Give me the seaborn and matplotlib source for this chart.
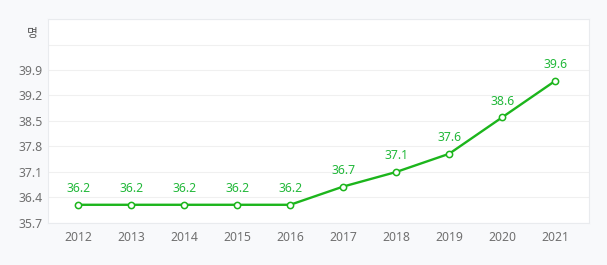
import matplotlib
matplotlib.use("Agg")
import matplotlib.pyplot as plt
import seaborn as sns
import pandas as pd

years = ["2012", "2013", "2014", "2015", "2016", "2017", "2018", "2019", "2020", "2021"]
values = [36.2, 36.2, 36.2, 36.2, 36.2, 36.7, 37.1, 37.6, 38.6, 39.6]
y_ticks = [35.7, 36.4, 37.1, 37.8, 38.5, 39.2, 39.9, 40.6, 41.3]
y_tick_labels = ["35.7", "36.4", "37.1", "37.8", "38.5", "39.2", "39.9", "", ""]
unit_label = "명"

sns.set_theme(style="white")
plt.rcParams["font.family"] = ["Noto Sans", "Noto Sans CJK KR", "DejaVu Sans"]

df = pd.DataFrame({"year": years, "value": values})

fig = plt.figure(figsize=(6.07, 2.65), dpi=100, facecolor="#f8f9fb")
ax = fig.add_axes([0.0791, 0.1585, 0.8913, 0.7698])
ax.set_facecolor("white")

line_color = "#1cb51c"
sns.lineplot(data=df, x="year", y="value", ax=ax, color=line_color, linewidth=1.7,
             marker="o", markersize=4.5, markerfacecolor="white",
             markeredgecolor=line_color, markeredgewidth=1.1, sort=False)

for i, v in enumerate(values):
    ax.annotate(f"{v:.1f}", (i, v), xytext=(0, 7), textcoords="offset points",
                ha="center", va="bottom", fontsize=8.8, color="#22b83a")

ax.set_ylim(35.7, 41.3)
ax.set_xlim(-0.57, 9.64)
ax.set_yticks(y_ticks)
ax.set_yticklabels(y_tick_labels)
ax.grid(axis="y", color="#f0f0f0", linewidth=0.8)
ax.grid(axis="x", visible=False)
ax.set_axisbelow(True)
ax.tick_params(axis="both", length=0, labelsize=8.8, labelcolor="#707070")
ax.tick_params(axis="x", pad=6)
ax.tick_params(axis="y", pad=4)
ax.set_xlabel("")
ax.set_ylabel("")
for s in ax.spines.values():
    s.set_color("#e9ebee")
    s.set_linewidth(0.8)

fig.text(32 / 607, 1 - 33 / 265, unit_label, ha="center", va="center",
         fontsize=8.5, color="#555555", family=["Noto Sans CJK KR", "DejaVu Sans"])

fig.savefig("out.png", dpi=100, facecolor=fig.get_facecolor())
